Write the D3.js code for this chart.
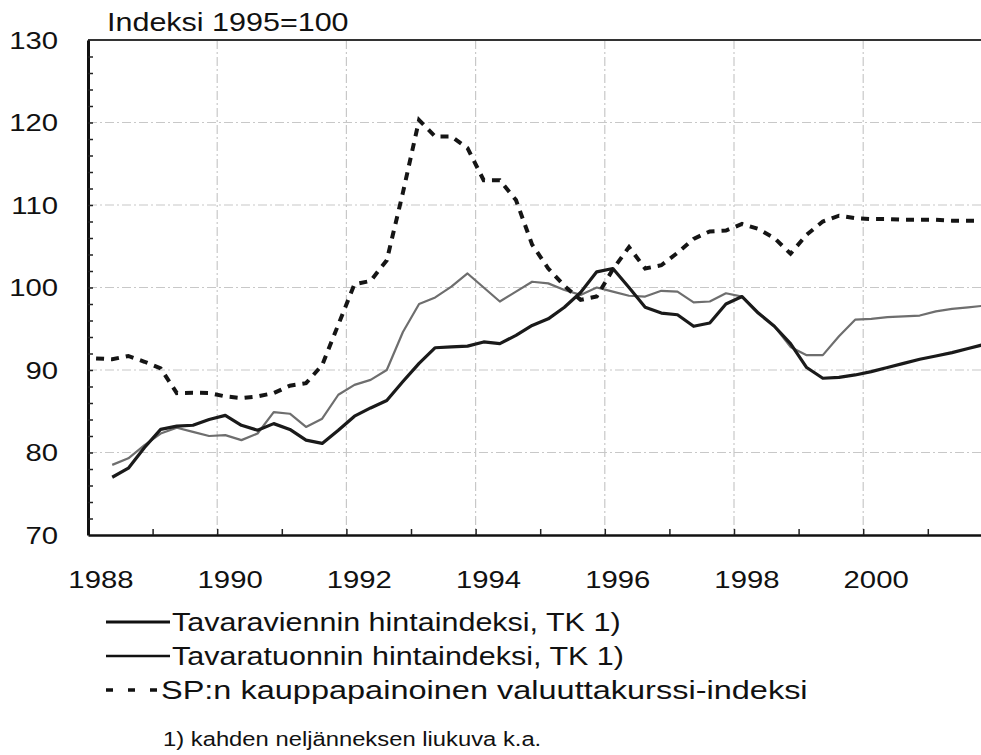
<!DOCTYPE html>
<html>
<head>
<meta charset="utf-8">
<script src="https://cdn.jsdelivr.net/npm/d3@7"></script>
<style>
  body { margin: 0; background: #fff; }
  svg { display: block; font-family: "Liberation Sans", Arial, sans-serif; }
</style>
</head>
<body>
<svg id="chart" width="981" height="755"></svg>
<script>
// Quarterly data 1988Q1 - 2001Q4, index 1995=100
const years = d3.range(1988, 2002);
const quarterNames = ['Q1', 'Q2', 'Q3', 'Q4'];

// Tavaraviennin hintaindeksi (2 quarter moving avg, starts 1988Q2)
const exportIdx = [
  null, 77.0, 78.1, 80.6,
  82.8, 83.2, 83.3, 84.0,
  84.5, 83.3, 82.7, 83.5,
  82.8, 81.5, 81.1, 82.7,
  84.4, 85.4, 86.3, 88.6,
  90.8, 92.7, 92.8, 92.9,
  93.4, 93.2, 94.2, 95.4,
  96.2, 97.6, 99.4, 101.9,
  102.3, 100.0, 97.6, 96.9,
  96.7, 95.3, 95.7, 98.0,
  98.9, 96.9, 95.3, 93.2,
  90.3, 89.0, 89.1, 89.4,
  89.8, 90.3, 90.8, 91.3,
  91.7, 92.1, 92.6, 93.1
];

// Tavaratuonnin hintaindeksi
const importIdx = [
  null, 78.5, 79.3, 80.9,
  82.3, 83.0, 82.5, 82.0,
  82.1, 81.5, 82.3, 84.9,
  84.7, 83.1, 84.1, 87.0,
  88.2, 88.8, 90.0, 94.6,
  98.0, 98.8, 100.1, 101.7,
  100.0, 98.3, 99.5, 100.7,
  100.5, 99.7, 99.1, 100.0,
  99.5, 99.0, 98.9, 99.6,
  99.5, 98.2, 98.3, 99.3,
  98.9, 97.0, 95.3, 92.8,
  91.8, 91.8, 94.1, 96.1,
  96.2, 96.4, 96.5, 96.6,
  97.1, 97.4, 97.6, 97.8
];

// SP:n kauppapainoinen valuuttakurssi-indeksi
const rateIdx = [
  91.4, 91.3, 91.7, 91.0,
  90.2, 87.2, 87.25, 87.2,
  86.8, 86.6, 86.8, 87.2,
  88.1, 88.4, 90.6, 95.5,
  100.4, 100.8, 103.3, 111.5,
  120.3, 118.3, 118.3, 116.9,
  113.0, 113.0, 110.6, 105.2,
  102.3, 100.2, 98.5, 98.9,
  102.2, 104.9, 102.3, 102.7,
  104.2, 105.9, 106.8, 106.9,
  107.7, 107.1, 106.0, 104.1,
  106.4, 108.0, 108.7, 108.4,
  108.3, 108.3, 108.2, 108.2,
  108.2, 108.1, 108.1, 108.1
];

const yTickValues = [70, 80, 90, 100, 110, 120, 130];
const gridValues = [80, 90, 100, 110, 120];
const labelYears = [1988, 1990, 1992, 1994, 1996, 1998, 2000];
const gridYears = [1990, 1992, 1994, 1996, 1998, 2000];
const titleText = 'Indeksi 1995=100';
const legendLabels = [
  'Tavaraviennin hintaindeksi, TK 1)',
  'Tavaratuonnin hintaindeksi, TK 1)',
  'SP:n kauppapainoinen valuuttakurssi-indeksi'
];
const footnote = '1) kahden neljänneksen liukuva k.a.';

// rows: one per quarter, positioned at quarter midpoint
const quarters = years.flatMap(yr => quarterNames.map((q, i) => ({ label: yr + q, t: yr + (i + 0.5) / 4 })));
const rows = quarters.map((d, i) => ({ t: d.t, exp: exportIdx[i], imp: importIdx[i], rate: rateIdx[i] }));

const svg = d3.select('#chart');
const plotLeft = 88, plotRight = 981, plotTop = 40, plotBottom = 535;
const pxPerYear = 64.6;

const x = d3.scaleLinear().domain([1988, 1988 + (plotRight - plotLeft) / pxPerYear]).range([plotLeft, plotRight]);
const y = d3.scaleLinear().domain([70, 130]).range([plotBottom, plotTop]);

const SX = 1.22; // scanned text is wider than Arial

function stretchText(g, px, py, str, size, anchor, sx) {
  return g.append('text')
    .attr('transform', `translate(${px},${py}) scale(${sx || SX},1)`)
    .attr('text-anchor', anchor || 'start')
    .attr('font-size', size)
    .attr('fill', '#111')
    .text(str);
}

svg.append('rect').attr('width', 981).attr('height', 755).attr('fill', '#fff');

svg.append('clipPath').attr('id', 'plot-clip')
  .append('rect').attr('x', plotLeft).attr('y', plotTop - 2)
  .attr('width', plotRight - plotLeft).attr('height', plotBottom - plotTop + 4);

// grid
const grid = svg.append('g').attr('class', 'grid');
grid.selectAll('line.h').data(gridValues).join('line')
  .attr('class', 'h')
  .attr('x1', plotLeft).attr('x2', plotRight)
  .attr('y1', d => y(d)).attr('y2', d => y(d))
  .attr('stroke', '#c8c8c8').attr('stroke-width', 1.2).attr('stroke-dasharray', '9,3,2,3');
grid.selectAll('line.v').data(gridYears).join('line')
  .attr('class', 'v')
  .attr('x1', d => x(d)).attr('x2', d => x(d))
  .attr('y1', plotTop).attr('y2', plotBottom)
  .attr('stroke', '#c8c8c8').attr('stroke-width', 1.2).attr('stroke-dasharray', '9,3,2,3');

// top border
svg.append('line')
  .attr('x1', plotLeft).attr('x2', plotRight).attr('y1', plotTop).attr('y2', plotTop)
  .attr('stroke', '#333').attr('stroke-width', 2);

// lines
const plot = svg.append('g').attr('clip-path', 'url(#plot-clip)');
const lineFor = key => d3.line()
  .defined(d => d[key] != null)
  .x(d => x(d.t))
  .y(d => y(d[key]));

plot.append('path').datum(rows)
  .attr('d', lineFor('imp'))
  .attr('fill', 'none').attr('stroke', '#6e6e6e').attr('stroke-width', 2.2)
  .attr('stroke-linejoin', 'round');

plot.append('path').datum(rows)
  .attr('d', lineFor('exp'))
  .attr('fill', 'none').attr('stroke', '#1a1a1a').attr('stroke-width', 3.2)
  .attr('stroke-linejoin', 'round');

plot.append('path').datum(rows)
  .attr('d', lineFor('rate'))
  .attr('fill', 'none').attr('stroke', '#151515').attr('stroke-width', 4)
  .attr('stroke-dasharray', '8,7');

// y axis: minor ticks inside, every 2
const yAxis = d3.axisRight(y)
  .tickValues(d3.range(72, 130, 2))
  .tickSize(5).tickSizeOuter(0).tickFormat('');
const yAxisG = svg.append('g').attr('transform', `translate(${plotLeft},0)`).call(yAxis);
yAxisG.select('.domain').attr('stroke', '#111').attr('stroke-width', 3);
yAxisG.selectAll('.tick line').attr('stroke', '#222').attr('stroke-width', 1.5);

// x axis: yearly ticks pointing up
const xAxis = d3.axisTop(x)
  .tickValues(d3.range(1989, 2002))
  .tickSize(6).tickSizeOuter(0).tickFormat('');
const xAxisG = svg.append('g').attr('transform', `translate(0,${plotBottom})`).call(xAxis);
xAxisG.select('.domain').attr('stroke', '#111').attr('stroke-width', 2.5);
xAxisG.selectAll('.tick line').attr('stroke', '#222').attr('stroke-width', 1.5);

// labels
const labels = svg.append('g');
yTickValues.forEach(v => stretchText(labels, 58, y(v) + 8.5, v, 24, 'end'));
labelYears.forEach(yr => stretchText(labels, x(yr + 0.2), 588, yr, 24, 'middle'));
stretchText(labels, 107, 31, titleText, 25);

// legend
const legend = svg.append('g');
const legendRows = [
  { y: 622, width: 3.2, dash: null, x2: 170, tx: 172, sx: 1.22 },
  { y: 656, width: 2.4, dash: null, x2: 170, tx: 172, sx: 1.22 },
  { y: 690, width: 3.5, dash: '7,15', x2: 159, tx: 161, sx: 1.3 }
];
legendRows.forEach((r, i) => {
  legend.append('line')
    .attr('x1', 106).attr('x2', r.x2).attr('y1', r.y).attr('y2', r.y)
    .attr('stroke', '#111').attr('stroke-width', r.width)
    .attr('stroke-dasharray', r.dash);
  stretchText(legend, r.tx, r.y + 9, legendLabels[i], 25, 'start', r.sx);
});
stretchText(legend, 163, 746, footnote, 19.5);
</script>
</body>
</html>
